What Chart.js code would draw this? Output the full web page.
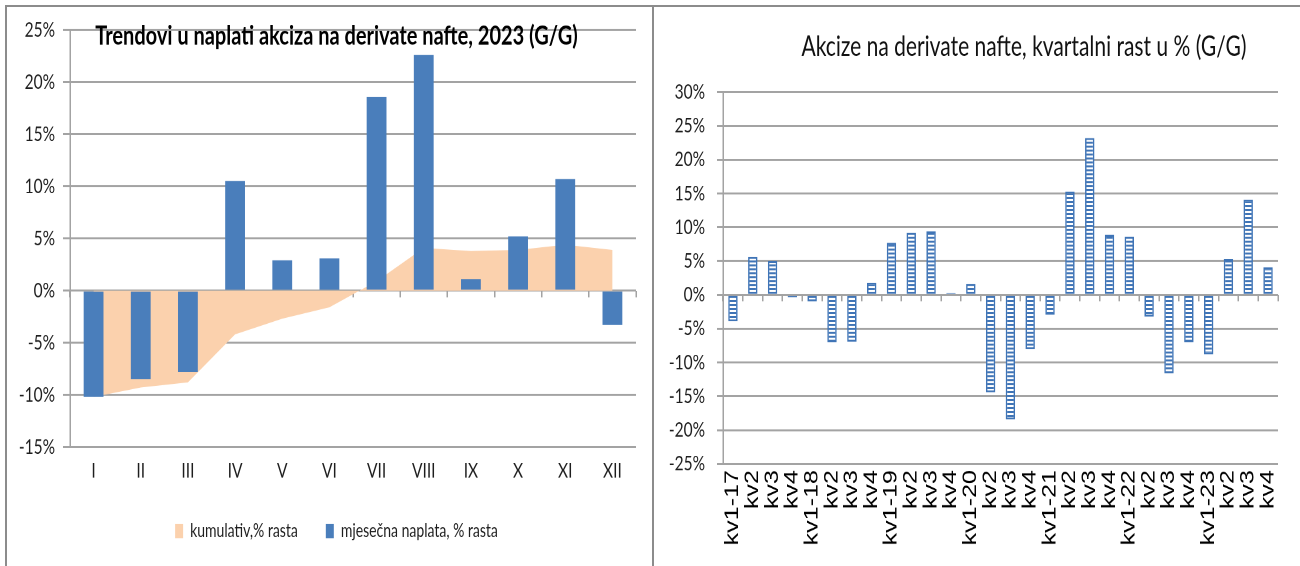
<!DOCTYPE html>
<html>
<head>
<meta charset="utf-8">
<script src="https://cdn.jsdelivr.net/npm/chart.js@4.4.1/dist/chart.umd.min.js"></script>
<style>
  html, body { margin: 0; padding: 0; background: #fff; width: 1300px; height: 566px; overflow: hidden; }
  .panel { position: absolute; top: 5px; height: 561px; border-top: 2px solid #8c8c8c; border-left: 2px solid #8c8c8c; }
  #left-panel { left: 5px; width: 645px; }
  #right-panel { left: 652px; width: 646px; }
  /* the source picture is stretched vertically, so the charts are too */
  .stretch { position: absolute; left: 0; top: 0; height: 424px; transform: scaleY(1.32); transform-origin: 0 0; }
  #left-wrap { width: 659px; }
  #right-wrap { width: 740px; }
</style>
</head>
<body>
<div class="panel" id="left-panel">
  <div class="stretch" id="left-wrap"><canvas id="monthly-chart"></canvas></div>
</div>
<div class="panel" id="right-panel">
  <div class="stretch" id="right-wrap"><canvas id="quarterly-chart"></canvas></div>
</div>
<script>
// left chart: monthly collection 2023
const months = ["I", "II", "III", "IV", "V", "VI", "VII", "VIII", "IX", "X", "XI", "XII"];
const monthlyGrowth = [-10.2, -8.5, -7.8, 10.5, 2.9, 3.1, 18.6, 22.6, 1.1, 5.2, 10.7, -3.3];
const cumulativeGrowth = [-10.2, -9.3, -8.8, -4.2, -2.7, -1.6, 0.9, 4.1, 3.8, 3.9, 4.4, 3.9];

// right chart: quarterly growth 2017-2023
const quarters = [
  "kv1-17", "kv2", "kv3", "kv4",
  "kv1-18", "kv2", "kv3", "kv4",
  "kv1-19", "kv2", "kv3", "kv4",
  "kv1-20", "kv2", "kv3", "kv4",
  "kv1-21", "kv2", "kv3", "kv4",
  "kv1-22", "kv2", "kv3", "kv4",
  "kv1-23", "kv2", "kv3", "kv4",
];
const quarterlyGrowth = [
  -3.9, 5.6, 5.0, -0.35,
  -0.95, -7.0, -6.9, 1.8,
  7.7, 9.2, 9.4, 0.3,
  1.6, -14.4, -18.4, -8.0,
  -2.9, 15.3, 23.2, 8.9,
  8.6, -3.2, -11.6, -7.0,
  -8.8, 5.3, 14.1, 4.1,
];

const BLUE = "#4a7ebb";
const PEACH = "#fbd1ad";
const GRID = "#a3a3a3";
const TEXT = "#1e1e1e";

Chart.defaults.font.family = 'Lato, "Liberation Sans", sans-serif';
Chart.defaults.color = TEXT;

const percent = (v) => v + "%";

// horizontal stripes used by the quarterly bars
const stripes = (() => {
  const c = document.createElement("canvas");
  c.width = 2;
  c.height = 6;
  const g = c.getContext("2d");
  g.fillStyle = "#ffffff";
  g.fillRect(0, 0, 2, 6);
  g.fillStyle = "#3f74b6";
  g.fillRect(0, 0, 2, 3);
  const p = g.createPattern(c, "repeat");
  p.setTransform(new DOMMatrix().scale(0.5));
  return p;
})();

// small tick marks along the 0% line
const zeroTicks = (labels) => ({
  type: "category",
  axis: "x",
  labels,
  position: { y: 0 },
  offset: true,
  grid: { offset: true, drawOnChartArea: false, tickLength: 5, color: GRID, lineWidth: 1.5 },
  border: { display: false },
  ticks: { display: false },
});

// empty axis, only takes room so the title sits where it does in the source
const spacer = (width) => ({
  axis: "y",
  position: "right",
  grid: { display: false },
  border: { display: false },
  ticks: { display: false },
  afterFit: (scale) => { scale.width = width; },
});

new Chart(document.getElementById("monthly-chart"), {
  type: "bar",
  data: {
    labels: months,
    datasets: [
      {
        type: "line",
        label: "kumulativ,% rasta",
        data: cumulativeGrowth,
        fill: "origin",
        backgroundColor: PEACH,
        borderColor: PEACH,
        borderWidth: 0,
        pointRadius: 0,
        order: 2,
      },
      {
        type: "bar",
        label: "mjesečna naplata, % rasta",
        data: monthlyGrowth,
        backgroundColor: BLUE,
        barPercentage: 0.42,
        categoryPercentage: 1,
        order: 1,
      },
    ],
  },
  options: {
    responsive: true,
    maintainAspectRatio: false,
    animation: false,
    devicePixelRatio: 2,
    layout: { padding: { left: 0, right: 0, top: 0, bottom: 10 } },
    plugins: {
      tooltip: { enabled: false },
      title: {
        display: true,
        text: "Trendovi u naplati akciza na derivate nafte, 2023 (G/G)",
        color: "#000",
        font: { size: 20, weight: "bold" },
        padding: { top: 10, bottom: -16.6 },
      },
      legend: {
        position: "bottom",
        labels: {
          boxWidth: 8,
          boxHeight: 11,
          padding: 28,
          font: { size: 14 },
          sort: (a, b) => a.datasetIndex - b.datasetIndex,
        },
      },
    },
    scales: {
      x: {
        grid: { display: false, drawTicks: false },
        border: { display: false },
        ticks: { padding: 8.9, font: { size: 15.5 } },
        afterFit: (scale) => { scale.height = 28.7; },
      },
      xZero: zeroTicks(months),
      y: {
        min: -15,
        max: 25,
        ticks: { stepSize: 5, callback: percent, padding: 8, font: { size: 15.5 } },
        grid: { color: GRID, lineWidth: 1.5, tickLength: 7 },
        border: { color: GRID, width: 1.5 },
        afterFit: (scale) => { scale.width = 63; },
      },
      yRoom: spacer(30),
    },
  },
});

new Chart(document.getElementById("quarterly-chart"), {
  type: "bar",
  data: {
    labels: quarters,
    datasets: [
      {
        label: "Akcize na derivate nafte",
        data: quarterlyGrowth,
        backgroundColor: stripes,
        borderColor: "#3f74b6",
        borderWidth: 1.5,
        borderSkipped: false,
        barPercentage: 0.47,
        categoryPercentage: 1,
      },
    ],
  },
  options: {
    responsive: true,
    maintainAspectRatio: false,
    animation: false,
    devicePixelRatio: 2,
    layout: { padding: 0 },
    plugins: {
      tooltip: { enabled: false },
      legend: { display: false },
      title: {
        display: true,
        text: "Akcize na derivate nafte, kvartalni rast u % (G/G)",
        color: "#111",
        font: { size: 21, weight: "normal" },
        padding: { top: 17.7, bottom: 21.5 },
      },
    },
    scales: {
      x: {
        grid: { display: false, drawTicks: false },
        border: { display: false },
        ticks: {
          autoSkip: false,
          minRotation: 90,
          maxRotation: 90,
          padding: 4.6,
          color: "#000",
          font: { family: '"Liberation Sans", Arial, sans-serif', size: 19 },
        },
        afterFit: (scale) => { scale.height = 77.8; },
      },
      xZero: zeroTicks(quarters),
      y: {
        min: -25,
        max: 30,
        ticks: { stepSize: 5, callback: percent, padding: 12, font: { size: 15.5 } },
        grid: { color: GRID, lineWidth: 1.5, tickLength: 6 },
        border: { color: GRID, width: 1.5 },
        afterFit: (scale) => { scale.width = 69; },
      },
      yRoom: spacer(116),
    },
  },
});
</script>
</body>
</html>
